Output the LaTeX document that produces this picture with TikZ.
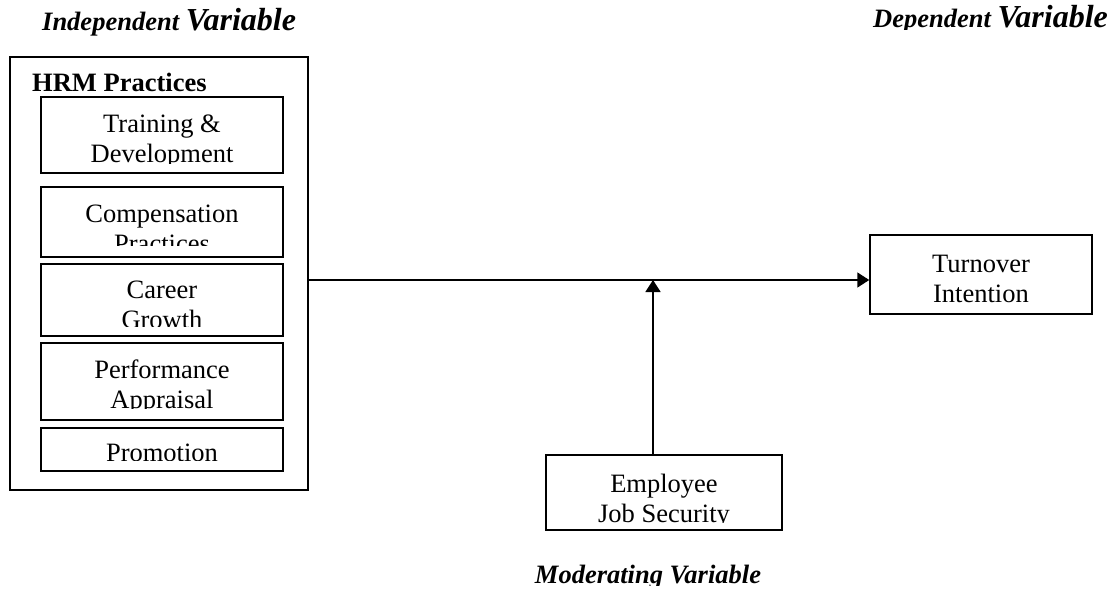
\documentclass[tikz,border=0pt]{standalone}
\usepackage{fontspec}
\setmainfont{Liberation Serif}
\usetikzlibrary{arrows.meta}

\tikzset{
  box/.style={draw, line width=1.5pt, inner sep=0pt},
  txt/.style={align=center, inner sep=0pt, anchor=base,
    font=\fontsize{26.5}{30}\selectfont},
  head/.style={inner sep=0pt, anchor=base west,
    font=\bfseries\itshape\fontsize{26.5}{30}\selectfont},
  arr/.style={line width=1.7pt, -{Triangle[length=12pt,width=15pt]}},
}
\newcommand{\bigvar}{{\fontsize{32}{32}\selectfont Variable}}

\begin{document}
\begin{tikzpicture}[x=1pt,y=-1pt]
\useasboundingbox (0,0) rectangle (1112,592);

% headings
\node [head] (indep) at (42,30) {Independent \bigvar};
\begin{scope}
\clip (850,0) rectangle (1112,29);
\node [head] (dep) at (873,27) {Dependent \bigvar};
\end{scope}

% HRM practices (base of a two-line text is its last line)
\node [box, minimum width=298pt, minimum height=433pt] (hrm) at (159,273.5) {};
\node [anchor=base west, inner sep=0pt, font=\bfseries\fontsize{26.5}{30}\selectfont] (hrmlabel) at (32,91) {HRM Practices};

\node [box, minimum width=242pt, minimum height=76pt] (train) at (162,135) {};
\begin{scope}
\clip (41,97) rectangle (283,163);
\node [txt] (traintext) at (162,162) {Training \&\\Development};
\end{scope}

\node [box, minimum width=242pt, minimum height=70pt] (comp) at (162,222) {};
\begin{scope}
\clip (41,187) rectangle (283,245);
\node [txt] (comptext) at (162,252) {Compensation\\Practices};
\end{scope}

\node [box, minimum width=242pt, minimum height=72pt] (career) at (162,300) {};
\begin{scope}
\clip (41,264) rectangle (283,326);
\node [txt] (careertext) at (162,328) {Career\\Growth};
\end{scope}

\node [box, minimum width=242pt, minimum height=77pt] (perf) at (162,381.5) {};
\begin{scope}
\clip (41,343) rectangle (283,408);
\node [txt] (perftext) at (162,408) {Performance\\Appraisal};
\end{scope}

\node [box, minimum width=242pt, minimum height=43pt] (promo) at (162,449.5) {};
\begin{scope}
\clip (41,428) rectangle (283,460);
\node [txt] (promotext) at (162,461) {Promotion};
\end{scope}

% outcome and moderator
\node [box, minimum width=222pt, minimum height=79pt] (turn) at (981,274.5) {};
\node [txt] (turntext) at (981,302) {Turnover\\Intention};

\node [box, minimum width=236pt, minimum height=75pt] (emp) at (664,492.5) {};
\begin{scope}
\clip (546,455) rectangle (782,522);
\node [txt] (emptext) at (664,522) {Employee\\Job Security};
\end{scope}

\begin{scope}
\clip (500,540) rectangle (800,585);
\node [head, anchor=base] (moder) at (648,583) {Moderating Variable};
\end{scope}

% arrows
\coordinate (meet) at (653,280);
\draw [arr] (hrm.east |- meet) -- (turn.west |- meet);
\draw [arr] (meet |- emp.north) -- (meet);

\end{tikzpicture}
\end{document}
